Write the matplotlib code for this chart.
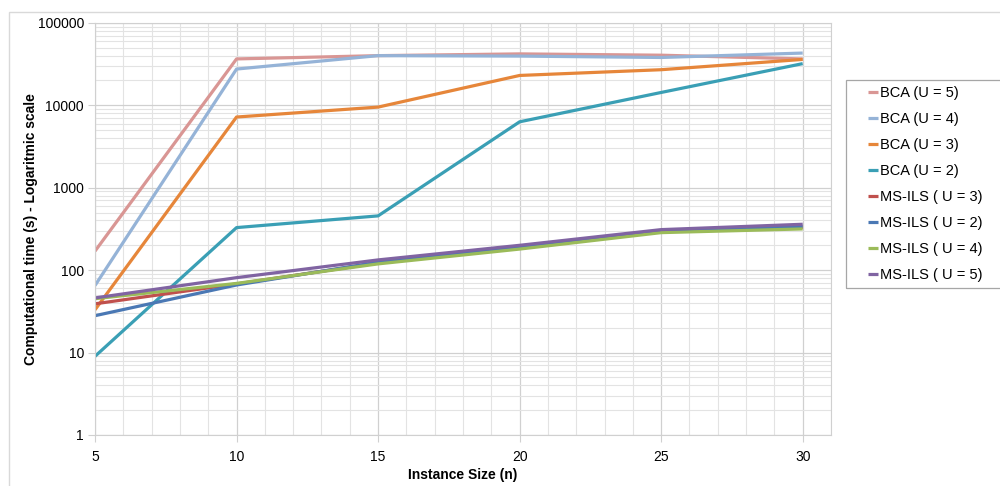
import matplotlib
matplotlib.use("Agg")
import matplotlib.pyplot as plt
from matplotlib.patches import Rectangle
from matplotlib.ticker import FixedLocator, NullFormatter

# instance sizes
sizes = [5, 10, 15, 20, 25, 30]

# computational times (s)
bca_u5 = [170, 36500, 40000, 42000, 40500, 36500]
bca_u4 = [65, 27500, 40000, 39500, 38000, 43000]
bca_u3 = [33, 7200, 9500, 23000, 27000, 36000]
bca_u2 = [9, 328, 455, 6300, 14300, 32000]
ms_u3 = [39, 68, 122, 185, 295, 330]
ms_u2 = [28, 66, 125, 190, 300, 340]
ms_u4 = [45, 69, 119, 180, 285, 316]
ms_u5 = [46, 81, 133, 200, 310, 360]

series = [
    ("BCA (U = 5)", bca_u5, "#D99694"),
    ("BCA (U = 4)", bca_u4, "#95B3D7"),
    ("BCA (U = 3)", bca_u3, "#E6863A"),
    ("BCA (U = 2)", bca_u2, "#3A9FB5"),
    ("MS-ILS ( U = 3)", ms_u3, "#C0504D"),
    ("MS-ILS ( U = 2)", ms_u2, "#4A78B4"),
    ("MS-ILS ( U = 4)", ms_u4, "#9BBB59"),
    ("MS-ILS ( U = 5)", ms_u5, "#8064A2"),
]

plt.rcParams['font.family'] = ['Liberation Sans', 'DejaVu Sans']

fig = plt.figure(figsize=(10, 4.86), dpi=100)
# outer chart frame (Excel style)
fig.patches.append(Rectangle((0.009, -0.1), 1.2, 1.075, transform=fig.transFigure,
                             fill=False, edgecolor="#D9D9D9", linewidth=1))
# legend box
fig.patches.append(Rectangle((0.846, 1 - 288 / 486), 0.2, 208 / 486, transform=fig.transFigure,
                             fill=False, edgecolor="#A6A6A6", linewidth=0.9))
ax = fig.add_axes([0.095, 0.105, 0.736, 0.848])

for name, vals, col in series:
    ax.plot(sizes, vals, color=col, lw=2.3, label=name, solid_capstyle='butt')

ax.set_yscale('log')
ax.set_ylim(1, 100000)
ax.set_xlim(5, 31)
ax.set_xticks([5, 10, 15, 20, 25, 30])
ax.xaxis.set_minor_locator(FixedLocator(range(5, 32)))
ax.set_yticks([1, 10, 100, 1000, 10000, 100000])
ax.set_yticklabels(["1", "10", "100", "1000", "10000", "100000"])
ax.yaxis.set_minor_formatter(NullFormatter())

ax.grid(which='major', color="#D0D0D0", lw=0.9)
ax.grid(which='minor', color="#E3E3E3", lw=0.8)
ax.set_axisbelow(True)
for s in ax.spines.values():
    s.set_color("#D0D0D0")
ax.tick_params(which='major', length=5, color="#D0D0D0", labelsize=10, pad=6)
ax.tick_params(which='minor', length=0)
ax.tick_params(axis='y', pad=3)

ax.set_xlabel("Instance Size (n)", fontsize=10, fontweight='bold', labelpad=3)
ax.set_ylabel("Computational time (s) - Logaritmic scale", fontsize=10, fontweight='bold', labelpad=0)

leg = fig.legend(loc='upper left', bbox_to_anchor=(0.868, 1 - 86 / 486),
                 bbox_transform=fig.transFigure, fontsize=10.5, frameon=False,
                 handlelength=0.7, handletextpad=0.1, labelspacing=0.82, borderpad=0,
                 borderaxespad=0)

fig.savefig("out.png", dpi=100)
